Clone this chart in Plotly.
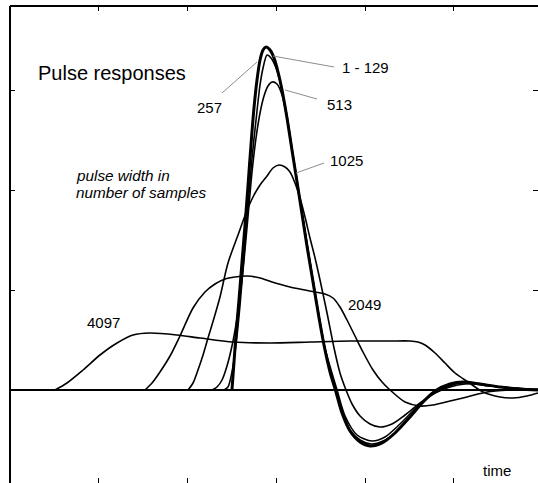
import plotly.graph_objects as go

# ---- data (time in tick units, amplitude in tick units) ----
t_1_129 = [2.501, 2.524, 2.546, 2.580, 2.614, 2.648, 2.682, 2.715, 2.749, 2.783, 2.817, 2.851, 2.885,
           2.930, 2.975, 3.020, 3.065, 3.121, 3.177, 3.234, 3.290, 3.346, 3.414, 3.482, 3.549, 3.606,
           3.673, 3.741, 3.831, 3.944, 4.056, 4.192, 4.338, 4.507, 4.654, 4.789, 4.958, 5.104, 5.296,
           5.521, 5.746, 5.949]
y_1_129 = [0, 0.28, 0.55, 0.90, 1.28, 1.65, 2.05, 2.45, 2.82, 3.10, 3.30, 3.40, 3.43,
           3.40, 3.32, 3.18, 3.00, 2.72, 2.40, 2.08, 1.76, 1.44, 1.08, 0.72, 0.40, 0.18,
           -0.02, -0.23, -0.41, -0.52, -0.56, -0.53, -0.43, -0.27, -0.12, -0.01, 0.06, 0.08, 0.06,
           0.03, 0.01, 0]

t_257 = [2.411, 2.456, 2.501, 2.546, 2.592, 2.637, 2.682, 2.727, 2.772, 2.817, 2.851, 2.896, 2.941,
         2.997, 3.054, 3.121, 3.177, 3.290, 3.414, 3.549, 3.673, 3.831, 3.944, 4.068, 4.203, 4.349,
         4.507, 4.654, 4.800, 4.958, 5.115, 5.296, 5.521, 5.949]
y_257 = [0, 0.03, 0.18, 0.45, 0.85, 1.35, 1.85, 2.32, 2.70, 3.05, 3.22, 3.35, 3.32,
         3.22, 3.04, 2.74, 2.42, 1.78, 1.09, 0.41, -0.01, -0.40, -0.50, -0.54, -0.51, -0.42,
         -0.27, -0.12, -0.01, 0.06, 0.08, 0.06, 0.03, 0]

t_513 = [2.276, 2.332, 2.389, 2.445, 2.501, 2.558, 2.614, 2.670, 2.727, 2.772, 2.817, 2.862, 2.907,
         2.952, 3.008, 3.065, 3.121, 3.177, 3.290, 3.414, 3.549, 3.685, 3.775, 3.910, 4.079, 4.225,
         4.394, 4.620, 4.845, 5.093, 5.408, 5.949]
y_513 = [0, 0.03, 0.10, 0.24, 0.44, 0.72, 1.10, 1.62, 2.18, 2.52, 2.77, 2.94, 3.04,
         3.08, 3.06, 2.95, 2.72, 2.40, 1.77, 1.10, 0.42, 0, -0.26, -0.45, -0.51, -0.47,
         -0.34, -0.14, 0, 0.07, 0.04, 0]

t_1025 = [2.006, 2.062, 2.118, 2.175, 2.231, 2.299, 2.366, 2.456, 2.569, 2.659, 2.738, 2.817, 2.896,
          2.963, 3.031, 3.099, 3.155, 3.211, 3.268, 3.324, 3.380, 3.437, 3.493, 3.572, 3.651, 3.718,
          3.786, 3.854, 3.944, 4.056, 4.169, 4.304, 4.451, 4.620, 4.789, 4.958, 5.127, 5.296, 5.521,
          5.949]
y_1025 = [0, 0.07, 0.20, 0.35, 0.52, 0.72, 0.93, 1.27, 1.55, 1.77, 1.93, 2.05, 2.14,
          2.22, 2.25, 2.23, 2.18, 2.07, 1.92, 1.73, 1.52, 1.32, 1.10, 0.77, 0.42, 0.17,
          0, -0.14, -0.26, -0.34, -0.37, -0.34, -0.25, -0.13, -0.03, 0.03, 0.06, 0.06, 0.03,
          0]

t_2049 = [1.521, 1.600, 1.690, 1.803, 1.915, 2.062, 2.197, 2.310, 2.423, 2.535, 2.670, 2.817, 2.952,
          3.155, 3.324, 3.437, 3.549, 3.639, 3.718, 3.797, 3.887, 3.977, 4.090, 4.192, 4.282, 4.451,
          4.620, 4.766, 4.958, 5.149, 5.375, 5.634, 5.949]
y_2049 = [0, 0.07, 0.18, 0.34, 0.54, 0.82, 0.98, 1.06, 1.11, 1.13, 1.14, 1.12, 1.08,
          1.03, 1.00, 0.98, 0.96, 0.92, 0.83, 0.70, 0.54, 0.38, 0.20, 0.08, 0, -0.12,
          -0.16, -0.15, -0.11, -0.07, -0.02, 0, 0.01]

t_4097 = [0.507, 0.642, 0.823, 1.014, 1.206, 1.386, 1.577, 1.882, 2.141, 2.513, 2.930, 3.380, 3.831,
          4.282, 4.507, 4.597, 4.676, 4.789, 4.901, 5.014, 5.161, 5.330, 5.521, 5.668, 5.825, 5.949]
y_4097 = [0, 0.07, 0.20, 0.35, 0.47, 0.55, 0.57, 0.55, 0.52, 0.48, 0.47, 0.48, 0.49,
          0.49, 0.49, 0.48, 0.45, 0.37, 0.27, 0.17, 0.08, -0.02, -0.07, -0.08, -0.06, -0.03]

x_ticks = [1, 2, 3, 4, 5]
y_ticks = [1, 2, 3]

FONT = "Liberation Sans, Arial, sans-serif"

fig = go.Figure()

series = [
    ("4097", t_4097, y_4097, 1.6),
    ("2049", t_2049, y_2049, 1.6),
    ("1025", t_1025, y_1025, 1.6),
    ("513", t_513, y_513, 1.6),
    ("257", t_257, y_257, 1.6),
    ("1 - 129", t_1_129, y_1_129, 3.0),
]
for name, t, y, w in series:
    fig.add_trace(go.Scatter(x=t, y=y, mode="lines", name=name,
                             line=dict(color="black", width=w, shape="spline", smoothing=0.8),
                             showlegend=False, hoverinfo="skip"))

# frame (left and top edges)
fig.add_shape(type="line", xref="paper", yref="paper", x0=0, y0=0, x1=0, y1=1,
              line=dict(color="black", width=2))
fig.add_shape(type="line", xref="paper", yref="paper", x0=0, y0=1, x1=1, y1=1,
              line=dict(color="black", width=2))

# leader lines
leaders = [
    (2.389, 2.97, 2.783, 3.28),   # 257
    (2.963, 3.34, 3.651, 3.23),   # 1 - 129
    (3.099, 3.00, 3.459, 2.91),   # 513
    (3.223, 2.17, 3.538, 2.27),   # 1025
]
for x0, y0, x1, y1 in leaders:
    fig.add_shape(type="line", x0=x0, y0=y0, x1=x1, y1=y1,
                  line=dict(color="#8c8c8c", width=1))

def label(text, x, y, size=15, italic=False, xanchor="center"):
    fig.add_annotation(x=x, y=y, text=text, showarrow=False, xanchor=xanchor, yanchor="middle",
                       font=dict(family=FONT, size=size, color="black",
                                 style="italic" if italic else "normal"))

label("Pulse responses", 0.293, 3.17, size=20, xanchor="left")
label("257", 2.248, 2.83)
label("1 - 129", 4.0, 3.23)
label("513", 3.707, 2.86)
label("1025", 3.792, 2.30)
label("2049", 3.994, 0.855)
label("4097", 1.054, 0.675)
label("time", 5.482, -0.80)
label("pulse width in", 0.721, 2.145, size=15.3, italic=True, xanchor="left")
label("number of samples", 0.721, 1.98, size=15.3, italic=True, xanchor="left")

fig.update_layout(
    width=538, height=483,
    margin=dict(l=10, r=0, t=6, b=0),
    paper_bgcolor="white", plot_bgcolor="white",
    xaxis=dict(range=[0, 5.949], tickvals=x_ticks, showticklabels=False, ticks="inside",
               ticklen=5, tickwidth=1, tickcolor="black", mirror="ticks",
               showgrid=False, zeroline=False, showline=False, fixedrange=True),
    yaxis=dict(range=[-0.93, 3.84], tickvals=y_ticks, showticklabels=False, ticks="inside",
               ticklen=5, tickwidth=1, tickcolor="black", mirror="ticks",
               showgrid=False, zeroline=True, zerolinecolor="black", zerolinewidth=2,
               showline=False, fixedrange=True),
)

fig.write_html("out.html")
